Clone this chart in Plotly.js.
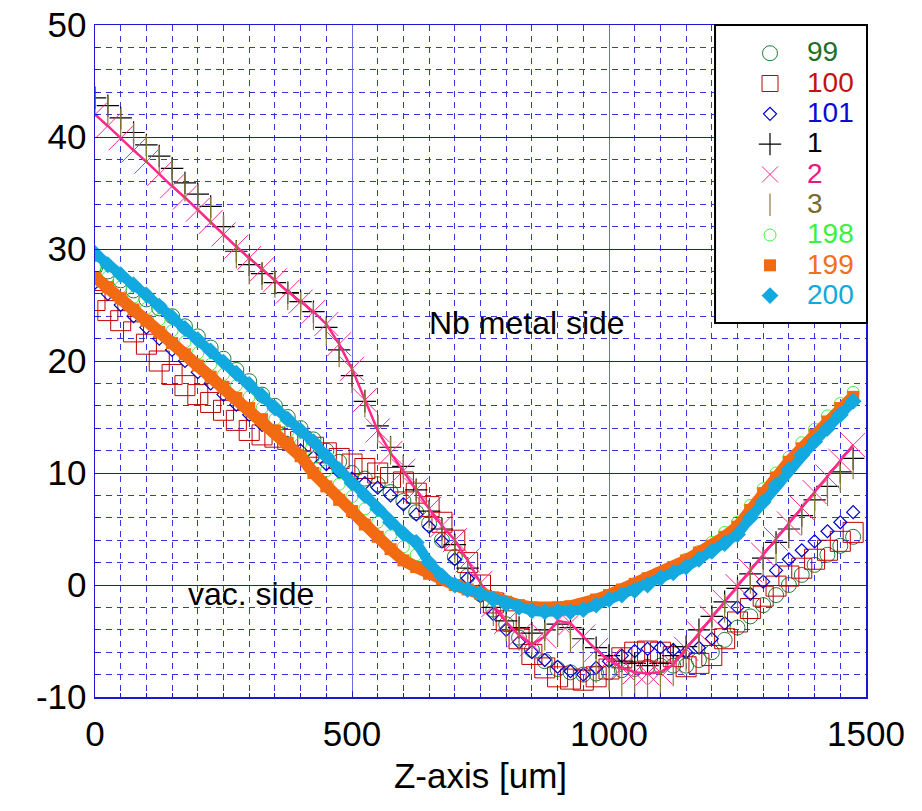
<!DOCTYPE html>
<html><head><meta charset="utf-8">
<script src="https://cdn.plot.ly/plotly-3.0.1.min.js"></script>
<style>html,body{margin:0;padding:0;background:#fff}</style>
</head><body>
<div id="chart" style="width:922px;height:811px"></div>
<script>
// Z-axis positions [um]
const zAxis = [0,25,50,75,100,125,150,175,200,225,250,275,300,325,350,375,400,425,450,475,500,525,550,575,600,625,650,675,700,725,750,775,800,825,850,875,900,925,950,975,1000,1025,1050,1075,1100,1125,1150,1175,1200,1225,1250,1275,1300,1325,1350,1375,1400,1425,1450,1475];

const s99 = [28.3,28.0,27.2,26.3,25.5,24.7,24.0,23.1,22.2,21.2,20.2,19.2,18.2,17.0,16.0,15.0,14.0,13.0,12.0,11.0,10.0,9.5,9.0,8.3,7.5,6.5,5.5,4.0,2.5,0.8,-0.8,-2.2,-3.5,-4.7,-5.8,-6.8,-7.5,-7.8,-8.0,-7.9,-7.8,-7.6,-7.5,-7.3,-7.2,-7.2,-7.2,-6.7,-6.0,-4.9,-3.8,-2.8,-1.8,-0.9,0.0,0.9,1.8,2.7,3.5,4.3];
const s100 = [25.4,24.5,23.6,22.6,21.5,20.0,18.8,17.8,17.0,16.3,15.6,14.7,13.8,13.4,13.2,13.0,12.8,12.3,11.8,11.3,10.8,10.4,10.0,9.6,9.2,8.2,7.0,5.6,4.0,2.0,0.0,-1.6,-3.2,-4.8,-6.2,-7.4,-8.2,-8.4,-8.5,-8.2,-7.5,-6.5,-6.0,-5.9,-6.0,-6.4,-7.3,-7.0,-6.3,-4.8,-3.3,-2.1,-1.0,-0.1,0.8,1.5,2.3,3.1,3.9,4.7];
const s101 = [27.0,26.0,25.0,24.0,23.0,22.0,21.0,20.0,19.0,18.0,17.0,16.1,15.2,14.3,13.5,12.7,12.0,11.4,10.8,10.1,9.5,9.1,8.7,8.0,7.2,6.3,5.2,3.9,2.3,0.6,-1.0,-2.6,-4.0,-5.1,-6.0,-6.7,-7.3,-7.7,-8.0,-7.4,-6.8,-6.3,-5.9,-5.7,-5.6,-5.8,-6.0,-5.6,-4.8,-3.4,-2.0,-0.8,0.3,1.3,2.3,3.1,3.9,4.8,5.6,6.5];
const s1 = [43.5,42.8,41.7,40.4,39.3,38.3,37.2,35.9,34.9,33.8,32.0,29.8,28.6,27.8,27.0,26.1,25.3,24.4,23.0,21.0,18.7,16.4,14.2,12.3,10.6,8.5,6.6,5.0,3.6,1.5,-0.5,-2.0,-3.2,-3.8,-4.3,-4.0,-3.5,-3.8,-4.8,-5.6,-6.3,-6.8,-7.0,-7.2,-7.0,-6.3,-5.5,-4.0,-2.8,-1.5,-0.3,1.0,2.4,3.8,5.0,6.2,7.6,8.8,10.1,11.3];
const s2 = [42.0,41.0,39.9,38.8,37.8,36.7,35.6,34.6,33.5,32.4,31.3,30.2,29.2,28.2,27.2,26.2,25.3,24.4,23.3,21.5,19.3,16.5,13.8,11.8,10.2,8.5,6.8,5.3,4.0,2.2,0.2,-1.8,-3.3,-4.5,-5.3,-4.6,-3.2,-3.4,-4.6,-5.8,-6.7,-7.4,-7.8,-7.9,-7.8,-7.1,-5.7,-4.3,-2.9,-1.5,-0.1,1.3,2.7,4.1,5.5,6.9,8.3,9.7,11.1,12.5];
const s3 = [43.2,42.4,41.3,40.0,38.9,37.9,36.8,35.5,34.5,33.4,31.8,29.5,28.1,27.6,26.9,25.8,24.9,24.0,22.6,20.7,18.4,16.2,13.9,12.0,10.3,8.2,6.3,4.6,3.2,1.2,-0.8,-2.4,-3.8,-4.6,-5.0,-4.6,-4.2,-4.8,-6.5,-7.5,-8.2,-8.7,-9.1,-9.2,-8.8,-7.8,-6.5,-5.0,-3.4,-2.1,-0.8,0.5,1.9,3.2,4.5,5.7,7.0,8.3,9.5,10.7];
const s198 = [28.4,27.5,26.6,25.7,24.7,23.7,22.7,21.7,20.7,19.7,18.8,17.8,16.8,15.8,14.8,13.7,12.6,11.4,10.2,9.0,7.9,6.8,5.6,4.4,3.4,2.7,1.6,0.7,0.0,-0.4,-0.8,-1.2,-1.6,-1.9,-2.1,-2.2,-2.2,-2.1,-1.9,-1.5,-1.0,-0.5,0.0,0.5,1.0,1.6,2.3,3.0,3.8,4.7,5.6,7.1,8.6,10.0,11.4,12.7,13.9,15.1,16.2,17.2];
const s199 = [27.5,26.6,25.6,24.6,23.6,22.6,21.6,20.6,19.6,18.6,17.7,16.7,15.8,14.8,13.8,12.7,11.5,10.0,8.8,7.6,6.6,5.4,4.3,3.2,2.2,1.6,1.0,0.5,0.0,-0.4,-0.8,-1.1,-1.5,-1.8,-2.0,-2.1,-2.0,-1.9,-1.7,-1.3,-0.9,-0.4,0.1,0.6,1.0,1.6,2.2,2.9,3.5,4.3,5.2,6.7,8.2,9.6,11.0,12.2,13.4,14.6,15.8,16.8];
const s200 = [29.6,28.6,27.7,26.8,25.9,24.9,23.9,22.9,21.9,20.9,19.9,18.9,17.9,16.9,15.8,14.8,13.8,12.8,11.5,10.3,9.1,8.0,6.8,5.6,4.6,3.8,2.0,0.8,0.0,-0.4,-0.8,-1.3,-1.7,-2.0,-2.3,-2.4,-2.4,-2.4,-2.2,-1.8,-1.3,-0.9,-0.5,0.0,0.6,1.1,1.6,2.3,3.0,3.7,4.5,6.0,7.4,8.9,10.3,11.6,12.8,14.0,15.2,16.4];

const seriesNames = ['99','100','101','1','2','3','198','199','200'];
const yTickVals = [-10,0,10,20,30,40,50];
const yTickText = ['-10','0','10','20','30','40','50'];
const xTickVals = [0,500,1000,1500];
const xTickText = ['0','500','1000','1500'];

function lbl(name, color){
  return '<span style="font-size:28px;color:' + color + '">' + name + '</span>';
}

const traces = [];
function mk(y, name, textColor, marker){
  traces.push({type:'scatter', mode:'markers', x:zAxis, y:y, name:lbl(name,textColor), marker:marker, hoverinfo:'x+y'});
}
function band(y, color, width){
  traces.push({type:'scatter', mode:'lines', x:zAxis, y:y, showlegend:false, line:{color:color, width:width}, hoverinfo:'skip'});
}

mk(s99, seriesNames[0], '#1f6e2c', {symbol:'circle-open', size:15, color:'#1f7a35', line:{width:1}});
mk(s100, seriesNames[1], '#c41010', {symbol:'square-open', size:20, color:'#c00000', line:{width:1}});
mk(s101, seriesNames[2], '#0a0ad2', {symbol:'diamond-open', size:10, color:'#0000d0', line:{width:1.2}});
mk(s1, seriesNames[3], '#000000', {symbol:'cross-thin-open', size:16, color:'#000000', line:{width:1.2}});
mk(s2, seriesNames[4], '#f0147f', {symbol:'x-thin-open', size:24, color:'#ff2a8a', line:{width:1}});
band(s2, '#ff2a8a', 2.5);
mk(s3, seriesNames[5], '#7a6a2e', {symbol:'line-ns-open', size:20, color:'#8b7b3a', line:{width:1.2}});
mk(s198, seriesNames[6], '#3cf03c', {symbol:'circle-open', size:12, color:'#40f040', line:{width:1}});
band(s199, '#f26a12', 12);
mk(s199, seriesNames[7], '#f07020', {symbol:'square', size:12, color:'#f26a12'});
band(s200, '#12a8e0', 10);
mk(s200, seriesNames[8], '#10a8e0', {symbol:'diamond', size:13, color:'#12a8e0'});

const tickFont = {family:'Liberation Sans, Arial, sans-serif', size:35, color:'#000'};

const layout = {
  width:922, height:811,
  margin:{l:95, r:56, t:25, b:114},
  paper_bgcolor:'#fff', plot_bgcolor:'#fff',
  font:{family:'Liberation Sans, Arial, sans-serif', color:'#000'},
  showlegend:true,
  legend:{x:0.8275, xanchor:'left', y:0.988, yanchor:'top', bgcolor:'rgba(0,0,0,0)', borderwidth:0,
          font:{size:21}, itemwidth:64, traceorder:'normal'},
  shapes:[
    {type:'rect', xref:'paper', yref:'paper', x0:0.8042, x1:1.0013, y0:0.5565, y1:1.0,
     line:{color:'#000', width:2}, fillcolor:'#fff', layer:'above'}
  ],
  xaxis:{range:[0,1500], tickmode:'array', tickvals:xTickVals, ticktext:xTickText, showgrid:true, gridcolor:'#6a6ae6', gridwidth:1,
         zeroline:false, showline:true, mirror:true, linecolor:'#1a1acc', linewidth:1.5,
         ticks:'inside', ticklen:6, tickcolor:'#1a1acc', tickfont:tickFont, ticklabelstandoff:5,
         title:{text:'Z-axis [um]', font:{size:35, color:'#000'}, standoff:12},
         minor:{dtick:50, tick0:0, showgrid:true, gridcolor:'#3434e0', griddash:'6px,5px', gridwidth:1, ticks:'inside', ticklen:4, tickcolor:'#1a1acc'}},
  yaxis:{range:[-10,50], tickmode:'array', tickvals:yTickVals, ticktext:yTickText, showgrid:true, gridcolor:'#1a1acc', gridwidth:1,
         zeroline:false, showline:true, mirror:true, linecolor:'#1a1acc', linewidth:1.5,
         ticks:'inside', ticklen:6, tickcolor:'#1a1acc', tickfont:tickFont,
         minor:{dtick:2, tick0:0, showgrid:true, gridcolor:'#3434e0', griddash:'6px,5px', gridwidth:1, ticks:'inside', ticklen:4, tickcolor:'#1a1acc'}},
  annotations:[
    {x:841, y:23.4, xref:'x', yref:'y', text:'Nb metal side', showarrow:false, font:{size:32, color:'#000'}},
    {x:304, y:-0.8, xref:'x', yref:'y', text:'vac. side', showarrow:false, font:{size:32, color:'#000'}}
  ]
};

Plotly.newPlot('chart', traces, layout, {displayModeBar:false, staticPlot:true});
</script>
</body></html>
